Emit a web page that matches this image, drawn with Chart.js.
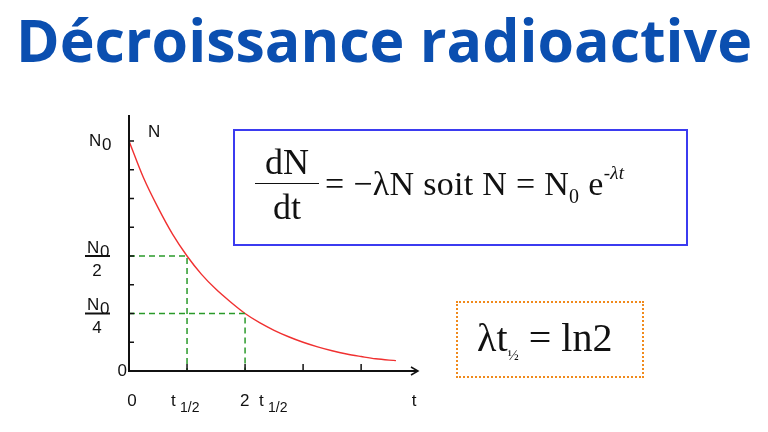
<!DOCTYPE html>
<html>
<head>
<meta charset="utf-8">
<script src="https://cdn.jsdelivr.net/npm/chart.js@4"></script>
<style>
  body { margin: 0; width: 768px; height: 432px; background: #fff; position: relative; overflow: hidden; }
  h1 { position: absolute; top: 1px; left: 0; width: 768px; margin: 0; text-align: center;
       font: bold 59px "Open Sans", sans-serif; color: #0b4fb0; line-height: 76px; }
  #chart { position: absolute; left: 0; top: 0; }
  .box { position: absolute; font-family: "Liberation Serif", serif; color: #111; }
  #eq1 { left: 233px; top: 129px; width: 451px; height: 113px; border: 2px solid #3b3bf0; }
  #eq2 { left: 456px; top: 301px; width: 184px; height: 73px; border: 2px dotted #f08a1c; }
  .frac { position: absolute; left: 20px; top: 12px; width: 64px; text-align: center; font-size: 36px; line-height: 38px; }
  .frac .bar { border-top: 1.5px solid #111; margin: 2px 0 4px; }
  .rest { position: absolute; left: 90px; top: 34px; font-size: 34px; white-space: nowrap; letter-spacing: 0.3px; }
  sub { font-size: 20px; }
</style>
</head>
<body>
<canvas id="chart" width="768" height="432"></canvas>
<h1>Décroissance radioactive</h1>
<div class="box" id="eq1">
  <div class="frac">dN<div class="bar"></div>dt</div>
  <div class="rest">= −λN soit N = N<sub>0</sub> e<span style="font-size:19px;position:relative;top:-16px;font-style:italic">-λt</span></div>
</div>
<div class="box" id="eq2">
  <div style="position:absolute;left:19px;top:11px;font-size:40px;white-space:nowrap">λt<sub style="font-size:15px">½</sub> = ln2</div>
</div>
<script>
// time in half-lives, N in units of N0
var times = [0, 0.25, 0.5, 0.75, 1, 1.25, 1.5, 1.75, 2, 2.25, 2.5, 2.75, 3, 3.25, 3.5, 3.75, 4, 4.25, 4.6];
var counts = [1, 0.84, 0.71, 0.595, 0.5, 0.42, 0.355, 0.3, 0.25, 0.21, 0.177, 0.149, 0.125, 0.105, 0.088, 0.074, 0.063, 0.053, 0.045];
var yLabels = [[0, '0'], [1, 'N0'], [0.5, 'N0/2'], [0.25, 'N0/4']];
var xLabels = [[0, '0'], [1, 't1/2'], [2, '2 t1/2']];

var axisPlugin = {
  id: 'axisPlugin',
  afterDraw: function(chart) {
    var c = chart.ctx, xs = chart.scales.x, ys = chart.scales.y;
    var x0 = xs.getPixelForValue(0), y0 = ys.getPixelForValue(0);
    var right = chart.chartArea.right, top = chart.chartArea.top;
    c.save();
    // dashed guides
    c.strokeStyle = '#2a9a2a'; c.lineWidth = 1.5; c.setLineDash([6, 4]);
    [[1, 0.5], [2, 0.25]].forEach(function(p) {
      var px = xs.getPixelForValue(p[0]), py = ys.getPixelForValue(p[1]);
      c.beginPath(); c.moveTo(x0, py); c.lineTo(px, py); c.lineTo(px, y0); c.stroke();
    });
    c.setLineDash([]);
    // axes
    c.strokeStyle = '#111'; c.lineWidth = 2;
    c.beginPath(); c.moveTo(x0, top); c.lineTo(x0, y0); c.lineTo(right, y0); c.stroke();
    c.lineWidth = 1.5;
    c.beginPath(); c.moveTo(right - 7, y0 - 4); c.lineTo(right, y0); c.lineTo(right - 7, y0 + 4); c.stroke();
    for (var i = 1; i <= 4; i++) {
      var tx = xs.getPixelForValue(i);
      c.beginPath(); c.moveTo(tx, y0); c.lineTo(tx, y0 - 7); c.stroke();
    }
    for (var j = 1; j <= 8; j++) {
      var ty = ys.getPixelForValue(j / 8);
      c.beginPath(); c.moveTo(x0, ty); c.lineTo(x0 + 5, ty); c.stroke();
    }
    // labels
    var F = '17px "Liberation Sans", sans-serif', FS = '14px "Liberation Sans", sans-serif';
    c.fillStyle = '#111'; c.font = F; c.textBaseline = 'middle';
    function n0(x, y) {
      c.textAlign = 'left'; c.font = F; c.fillText('N', x, y);
      c.fillText('0', x + 13, y + 4);
    }
    yLabels.forEach(function(l) {
      var py = ys.getPixelForValue(l[0]);
      if (l[1] === '0') { c.textAlign = 'right'; c.fillText('0', x0 - 2, py); }
      else if (l[1] === 'N0') { n0(x0 - 40, py); }
      else {
        n0(x0 - 42, py - 8);
        c.beginPath(); c.lineWidth = 2; c.moveTo(x0 - 44, py); c.lineTo(x0 - 19, py); c.stroke();
        c.textAlign = 'center'; c.fillText(l[1].slice(3), x0 - 32, py + 15);
      }
    });
    c.textAlign = 'left'; c.fillText('N', x0 + 19, top + 17);
    var ly = y0 + 30;
    xLabels.forEach(function(l) {
      var px = xs.getPixelForValue(l[0]);
      c.font = F;
      if (l[1] === '0') { c.textAlign = 'center'; c.fillText('0', px + 3, ly); return; }
      var base = px - 16;
      if (l[1].charAt(0) === '2') { c.textAlign = 'left'; c.fillText('2', px - 5, ly); base = px + 14; }
      c.textAlign = 'left'; c.fillText('t', base, ly);
      c.font = FS; c.fillText('1/2', base + 9, ly + 7);
    });
    c.font = F; c.textAlign = 'center'; c.fillText('t', right - 4, ly);
    c.restore();
  }
};

new Chart(document.getElementById('chart'), {
  type: 'scatter',
  data: {
    datasets: [{
      data: times.map(function(t, i) { return { x: t, y: counts[i] }; }),
      showLine: true, borderColor: '#f03030', borderWidth: 1.4,
      pointRadius: 0, cubicInterpolationMode: 'monotone', fill: false
    }]
  },
  options: {
    responsive: false, animation: false, devicePixelRatio: 1,
    layout: { padding: { left: 129, right: 350, top: 115, bottom: 61 } },
    plugins: { legend: { display: false }, tooltip: { enabled: false } },
    scales: {
      x: { type: 'linear', min: 0, max: 4.98, display: false },
      y: { type: 'linear', min: 0, max: 1.113, display: false }
    }
  },
  plugins: [axisPlugin]
});
</script>
</body>
</html>
